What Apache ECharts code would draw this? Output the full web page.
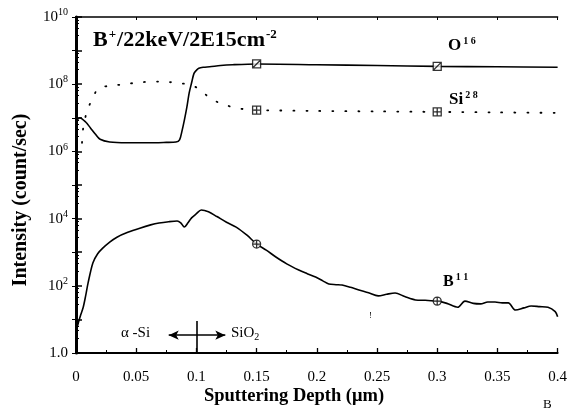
<!DOCTYPE html>
<html>
<head>
<meta charset="utf-8">
<script src="https://cdn.jsdelivr.net/npm/echarts@6/dist/echarts.min.js"></script>
<style>
  html, body { margin: 0; padding: 0; background: #fff; }
  #chart { width: 570px; height: 412px; }
</style>
</head>
<body>
<div id="chart"></div>
<script>
// SIMS depth profile: B+ implant 22 keV, 2E15 cm^-2
const depthO = [0, 0.003, 0.008, 0.012, 0.016, 0.02, 0.028, 0.042, 0.06, 0.075, 0.083, 0.086, 0.088, 0.09, 0.092, 0.094, 0.096, 0.098, 0.1, 0.102, 0.106, 0.111, 0.12, 0.13, 0.15, 0.2, 0.25, 0.3, 0.35, 0.4];
const intensityO = [7.0e6, 1.0e7, 7.5e6, 5e6, 3.3e6, 2.3e6, 1.9e6, 1.8e6, 1.8e6, 1.85e6, 1.9e6, 2.2e6, 4e6, 8.5e6, 2e7, 5.5e7, 1.1e8, 2.1e8, 2.6e8, 3e8, 3.2e8, 3.3e8, 3.6e8, 3.8e8, 4e8, 3.8e8, 3.6e8, 3.4e8, 3.3e8, 3.2e8];

const depthSi = [0.005, 0.006, 0.009, 0.014, 0.019, 0.03, 0.04, 0.055, 0.068, 0.078, 0.088, 0.094, 0.1, 0.104, 0.108, 0.112, 0.117, 0.121, 0.126, 0.131, 0.14, 0.15, 0.2, 0.25, 0.3, 0.35, 0.4];
const intensitySi = [1.8e6, 5e6, 1.5e7, 4e7, 7.7e7, 9e7, 1e8, 1.15e8, 1.2e8, 1.15e8, 1.05e8, 1e8, 8e7, 6.3e7, 4.8e7, 3.6e7, 3e7, 2.6e7, 2.3e7, 2e7, 1.8e7, 1.7e7, 1.6e7, 1.55e7, 1.5e7, 1.45e7, 1.4e7];

const depthB = [0, 0.002, 0.004, 0.006, 0.008, 0.01, 0.014, 0.018, 0.022, 0.028, 0.034, 0.043, 0.053, 0.062, 0.069, 0.077, 0.084, 0.087, 0.09, 0.093, 0.096, 0.1, 0.104, 0.11, 0.117, 0.125, 0.133, 0.142, 0.15, 0.158, 0.166, 0.175, 0.185, 0.192, 0.199, 0.205, 0.21, 0.216, 0.221, 0.228, 0.235, 0.243, 0.251, 0.258, 0.265, 0.273, 0.282, 0.29, 0.3, 0.308, 0.317, 0.323, 0.33, 0.336, 0.342, 0.348, 0.354, 0.359, 0.365, 0.372, 0.378, 0.385, 0.392, 0.398, 0.4];
const intensityB = [4, 8, 14, 23, 50, 120, 480, 900, 1300, 2000, 2800, 3900, 5200, 6500, 7400, 8100, 8500, 7500, 5600, 7500, 10500, 14000, 18000, 16000, 11500, 7800, 5600, 3200, 1750, 1150, 720, 450, 295, 230, 182, 140, 113, 108, 105, 90, 75, 62, 50, 56, 61, 48, 38, 37, 35, 30, 23, 35, 30, 29, 33, 33, 31, 31, 19, 22, 25, 24, 23, 17, 12];

// depths where the series symbols are drawn
const markerDepths = [0.15, 0.3];

// x-axis tick labels
const xTicks = ['0', '0.05', '0.1', '0.15', '0.2', '0.25', '0.3', '0.35', '0.4'];

// interface annotation (a-Si / SiO2 boundary)
const interfaceDepth = 0.1;
const interfaceTop = 9;
const arrowSpan = [0.077, 0.124];
const arrowLevel = 3.4;

const pairs = (xs, ys) => xs.map((x, i) => [x, ys[i]]);
const pick = (xs, ys) => markerDepths.map(d => [d, ys[xs.indexOf(d)]]);

const serif = '"Liberation Serif", "DejaVu Serif", serif';

const symSquareSlash = 'path://M0,0H10V10H0ZM1,9L9,1';
const symSquarePlus = 'path://M0,0H10V10H0ZM5,0V10M0,5H10';
const symCirclePlus = 'path://M10,5A5,5 0 1,1 0,5A5,5 0 1,1 10,5ZM5,0V10M0,5H10';

function markerSeries(data, symbol) {
  return {
    type: 'scatter',
    data: data,
    symbol: symbol,
    symbolSize: 8,
    itemStyle: { color: '#fff', borderColor: '#000', borderWidth: 1.3 },
    z: 5,
    silent: true
  };
}

function supLabel(base, sup, size) {
  return {
    text: '{b|' + base + '}{s|' + sup + '}',
    rich: {
      b: { fontFamily: serif, fontSize: size, fontWeight: 'bold', fill: '#000' },
      s: { fontFamily: serif, fontSize: 10, fontWeight: 'bold', fill: '#000', padding: [0, 0, 10, 2] }
    }
  };
}

const chart = echarts.init(document.getElementById('chart'));

chart.setOption({
  animation: false,
  backgroundColor: '#fff',
  grid: { left: 76, right: 10, top: 17, bottom: 59 },
  title: {
    text: '{b|B}{s|+}{b|/22keV/2E15cm}{s|-2}',
    left: 88,
    top: 23,
    textStyle: {
      rich: {
        b: { fontFamily: serif, fontSize: 22, fontWeight: 'bold', color: '#000' },
        s: { fontFamily: serif, fontSize: 13, fontWeight: 'bold', color: '#000', padding: [0, 1, 11, 1] }
      }
    }
  },
  xAxis: [
    {
      type: 'value',
      min: 0, max: 0.4, interval: 0.05,
      axisLine: { lineStyle: { color: '#000', width: 2 } },
      axisTick: { inside: true, length: 5, lineStyle: { color: '#000', width: 1.3 } },
      minorTick: { show: true, splitNumber: 2, length: 3, lineStyle: { color: '#000' } },
      splitLine: { show: false },
      axisLabel: {
        fontFamily: serif, fontSize: 15, color: '#000', margin: 17,
        formatter: (v) => xTicks[Math.round(v / 0.05)]
      }
    },
    {
      type: 'value', position: 'top',
      min: 0, max: 0.4, interval: 0.05,
      axisLine: { show: true, lineStyle: { color: '#000', width: 1.5 } },
      axisTick: { inside: true, length: 3, lineStyle: { color: '#000' } },
      axisLabel: { show: false },
      splitLine: { show: false }
    }
  ],
  yAxis: [
    {
      type: 'log', logBase: 10,
      min: 1, max: 1e10, interval: 1,
      axisLine: { show: true, lineStyle: { color: '#000', width: 3 } },
      axisTick: { inside: true, length: 6, lineStyle: { color: '#000', width: 1.5 } },
      minorTick: { show: true, splitNumber: 5, length: 3, lineStyle: { color: '#000' } },
      splitLine: { show: false },
      axisLabel: {
        margin: 8,
        formatter: function (v) {
          const e = Math.round(Math.log10(v));
          if (e === 0) return '{b|1.0}';
          if (e % 2 === 1) return '';
          return '{b|10}{s|' + e + '}';
        },
        rich: {
          b: { fontFamily: serif, fontSize: 15, color: '#000' },
          s: { fontFamily: serif, fontSize: 10, color: '#000', padding: [0, 0, 9, 0] }
        }
      }
    },
    {
      type: 'log', logBase: 10, position: 'right',
      min: 1, max: 1e10, interval: 1,
      axisLine: { show: true, lineStyle: { color: '#000', width: 2 } },
      axisTick: { inside: true, length: 4, lineStyle: { color: '#000' } },
      axisLabel: { show: false },
      splitLine: { show: false }
    }
  ],
  graphic: [
    {
      type: 'text', left: 204, top: 387,
      style: { text: 'Sputtering Depth (\u03bcm)', font: 'bold 18.5px ' + serif, fill: '#000' }
    },
    {
      type: 'text', x: 21, y: 200, rotation: Math.PI / 2,
      style: {
        text: 'Intensity (count/sec)', font: 'bold 20px ' + serif, fill: '#000',
        align: 'center', verticalAlign: 'middle'
      }
    },
    {
      type: 'text', left: 543, top: 398,
      style: { text: 'B', font: '13px ' + serif, fill: '#000' }
    },
    { type: 'text', left: 448, top: 36, style: supLabel('O', '1 6', 17) },
    { type: 'text', left: 449, top: 90, style: supLabel('Si', '2 8', 17) },
    { type: 'text', left: 443, top: 272, style: supLabel('B', '1 1', 16) },
    {
      type: 'text', left: 121, top: 326,
      style: { text: '\u03b1 -Si', font: '15px ' + serif, fill: '#000' }
    },
    {
      type: 'text', left: 231, top: 326,
      style: {
        text: '{b|SiO}{u|2}',
        rich: {
          b: { fontFamily: serif, fontSize: 15, fill: '#000' },
          u: { fontFamily: serif, fontSize: 10, fill: '#000', padding: [7, 0, 0, 0] }
        }
      }
    },
    {
      type: 'text', left: 369, top: 311,
      style: { text: '!', font: '9px ' + serif, fill: '#000' }
    }
  ],
  series: [
    {
      name: 'O16', type: 'line',
      data: pairs(depthO, intensityO),
      showSymbol: false, smooth: 0.3,
      lineStyle: { color: '#000', width: 1.6 },
      silent: true
    },
    {
      name: 'Si28', type: 'line',
      data: pairs(depthSi, intensitySi),
      showSymbol: false, smooth: 0.3,
      lineStyle: { color: '#000', width: 1.8, type: [1, 12], cap: 'round' },
      silent: true
    },
    {
      name: 'B11', type: 'line',
      data: pairs(depthB, intensityB),
      showSymbol: false, smooth: 0.3,
      lineStyle: { color: '#000', width: 1.6 },
      silent: true,
      markLine: {
        silent: true,
        label: { show: false },
        data: [
          [
            { coord: [interfaceDepth, 1], symbol: 'none' },
            { coord: [interfaceDepth, interfaceTop], symbol: 'none' }
          ],
          [
            { coord: [arrowSpan[0], arrowLevel], symbol: 'arrow' },
            { coord: [arrowSpan[1], arrowLevel], symbol: 'arrow' }
          ]
        ],
        symbolSize: [7, 10],
        lineStyle: { color: '#000', width: 1.6, type: 'solid' }
      }
    },
    markerSeries(pick(depthO, intensityO), symSquareSlash),
    markerSeries(pick(depthSi, intensitySi), symSquarePlus),
    markerSeries(pick(depthB, intensityB), symCirclePlus)
  ]
});
</script>
</body>
</html>
